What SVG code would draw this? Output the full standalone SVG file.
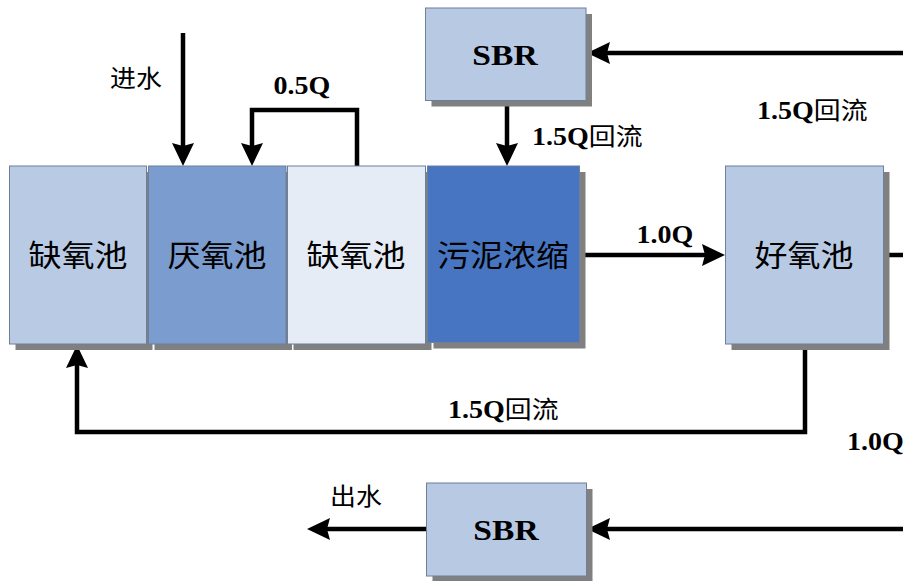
<svg xmlns="http://www.w3.org/2000/svg" width="903" height="581" viewBox="0 0 903 581">
<style>
.shadow{fill:#808080}
.box{stroke:#6d7f99;stroke-width:1}
.c1{fill:#b8cae4}.c2{fill:#7b9ccf}.c3{fill:#e6ecf6}.c4{fill:#4775c1}
.cn{fill:#b8c9e4}
.big{font-family:"Liberation Serif","Noto Sans CJK SC",serif;font-size:30px;fill:#000}
.lbl{font-family:"Liberation Serif","Noto Sans CJK SC",serif;font-size:25px;font-weight:bold;fill:#000}
.lbl tspan{font-family:"Noto Sans CJK SC",sans-serif;font-weight:normal;font-size:24px}
.sbr{font-family:"Liberation Serif",serif;font-size:30px;font-weight:bold;fill:#000}
.cjk{font-family:"Noto Sans CJK SC",sans-serif;font-size:24px;fill:#000}
.wire{fill:none;stroke:#000;stroke-width:4.5;stroke-linejoin:miter}
</style>
<defs>
<marker id="ah" markerUnits="userSpaceOnUse" markerWidth="26" markerHeight="26" viewBox="0 -13 26 26" refX="4" refY="0" orient="auto">
<path d="M23,0 L0,-11 L3,0 L0,11 Z" fill="#000"/>
</marker>
</defs>
<g id="connectors">
<path class="wire" d="M183,33 L183,147" marker-end="url(#ah)"/>
<path class="wire" d="M357,166 L357,110 L252,110 L252,147" marker-end="url(#ah)"/>
<path class="wire" d="M507,100 L507,147" marker-end="url(#ah)"/>
<path class="wire" d="M905,53 L606,53" marker-end="url(#ah)"/>
<path class="wire" d="M578,255 L706,255" marker-end="url(#ah)"/>
<path class="wire" d="M884,255 L905,255"/>
<path class="wire" d="M805,344 L805,432 L77,432 L77,364" marker-end="url(#ah)"/>
<path class="wire" d="M905,529 L606,529" marker-end="url(#ah)"/>
<path class="wire" d="M427,529 L326,529" marker-end="url(#ah)"/>
</g>
<g id="n-anoxic1">
<rect class="shadow" x="15.5" y="172" width="137" height="178"/>
<rect class="box c1" x="9.5" y="166" width="137" height="178"/>
<text class="big" text-anchor="middle" transform="translate(78,266) scale(1.1,1)">缺氧池</text>
</g>
<g id="n-anaerobic">
<rect class="shadow" x="154.5" y="172" width="137.5" height="178"/>
<rect class="box c2" x="148.5" y="166" width="137.5" height="178"/>
<text class="big" text-anchor="middle" transform="translate(217,266) scale(1.1,1)">厌氧池</text>
</g>
<g id="n-anoxic2">
<rect class="shadow" x="293.5" y="172" width="138" height="178"/>
<rect class="box c3" x="287.5" y="166" width="138" height="178"/>
<text class="big" text-anchor="middle" transform="translate(356,266) scale(1.1,1)">缺氧池</text>
</g>
<g id="n-thicken">
<rect class="shadow" x="433.5" y="172" width="152" height="176.5"/>
<rect class="box c4" x="427.5" y="166" width="152" height="176.5"/>
<text class="big" text-anchor="middle" transform="translate(503,266) scale(1.1,1)">污泥浓缩</text>
</g>
<g id="n-aerobic">
<rect class="shadow" x="731.5" y="172" width="158" height="178"/>
<rect class="box cn" x="725.5" y="166" width="158" height="178"/>
<text class="big" text-anchor="middle" transform="translate(804,266) scale(1.1,1)">好氧池</text>
</g>
<g id="n-sbr-top">
<rect class="shadow" x="431.5" y="14" width="160.5" height="92.5"/>
<rect class="box cn" x="425.5" y="8" width="160.5" height="92.5"/>
<text class="sbr" text-anchor="middle" transform="translate(505,65) scale(1.12,1)">SBR</text>
</g>
<g id="n-sbr-bottom">
<rect class="shadow" x="432.5" y="489" width="160" height="93"/>
<rect class="box cn" x="426.5" y="483" width="160" height="93"/>
<text class="sbr" text-anchor="middle" transform="translate(506,540) scale(1.12,1)">SBR</text>
</g>
<g id="labels">
<text class="cjk" transform="translate(110,87) scale(1.08,1)">进水</text>
<text class="cjk" transform="translate(330,505) scale(1.08,1)">出水</text>
<text class="lbl" text-anchor="middle" transform="translate(302,94) scale(1.12,1)">0.5Q</text>
<text class="lbl" text-anchor="middle" transform="translate(665,243) scale(1.12,1)">1.0Q</text>
<text class="lbl" transform="translate(532,145) scale(1.12,1)">1.5Q<tspan>回流</tspan></text>
<text class="lbl" transform="translate(757,119) scale(1.12,1)">1.5Q<tspan>回流</tspan></text>
<text class="lbl" transform="translate(448,418) scale(1.12,1)">1.5Q<tspan>回流</tspan></text>
<text class="lbl" transform="translate(847,450) scale(1.12,1)">1.0Q</text>
</g>
</svg>
